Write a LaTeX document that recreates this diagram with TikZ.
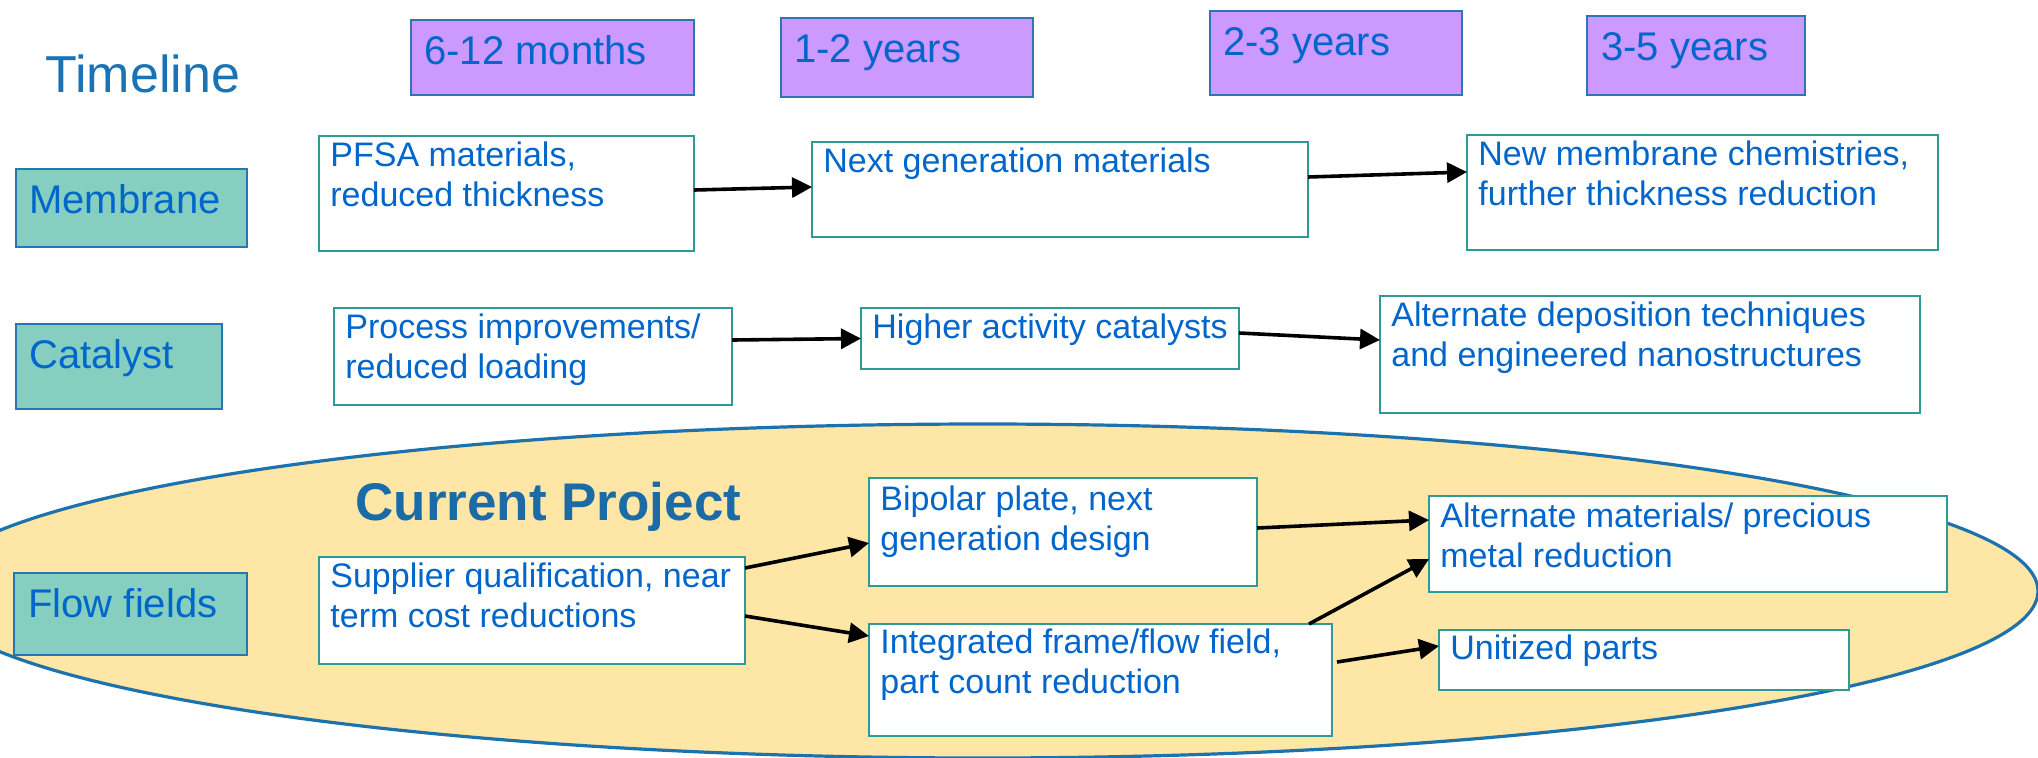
\documentclass[tikz,border=0pt]{standalone}
\usepackage{fontspec}
\setmainfont{Liberation Sans}
\usetikzlibrary{arrows.meta,calc}
\definecolor{txtblue}{HTML}{0066CC}
\definecolor{headblue}{HTML}{1A73B5}
\definecolor{projblue}{HTML}{1A6BA6}
\definecolor{purplefill}{HTML}{CC99FF}
\definecolor{purpleline}{HTML}{2E75B6}
\definecolor{tealfill}{HTML}{85CEC0}
\definecolor{tealline}{HTML}{2478B2}
\definecolor{wline}{HTML}{2E9A96}
\definecolor{ellfill}{HTML}{FEE6A6}
\definecolor{ellline}{HTML}{1C72AD}
\tikzset{
  boxbase/.style={anchor=north west, inner sep=0pt, outer sep=0pt},
  pbox/.style={boxbase, draw=purpleline, line width=0.9pt, fill=purplefill},
  tbox/.style={boxbase, draw=tealline, line width=0.9pt, fill=tealfill},
  wbox/.style={boxbase, draw=wline, line width=0.9pt, fill=white},
  lbl/.style={anchor=base west, inner sep=0pt, text=txtblue, font=\fontsize{20}{24}\selectfont},
  btxt/.style={anchor=north west, inner sep=0pt, align=left, text=txtblue, font=\fontsize{17}{20}\selectfont},
  arr/.style={draw=black, line width=1.8pt, -{Triangle[length=10pt,width=10pt]}},
}
\newcommand{\fs}{\rule{0pt}{15pt}}
\begin{document}
\begin{tikzpicture}[x=0.5pt,y=-0.5pt]
\useasboundingbox (0,0) rectangle (2038,757);
\begin{scope}
  \clip (0,0) rectangle (2038,757);
  \draw[ellline, fill=ellfill, line width=1.6pt] (983,591) ellipse [x radius=1055, y radius=167];
\end{scope}

% Timeline header
\node[anchor=base west, inner sep=0pt, text=headblue, font=\fontsize{26}{30}\selectfont] (timeline) at (45,92) {Timeline};

\node[pbox, minimum width=141.5pt, minimum height=37.5pt] (p1) at (411,20) {};
\node[lbl] (p1t) at ($(p1.north west)+(13,44)$) {6-12 months};
\node[pbox, minimum width=126pt, minimum height=39.5pt] (p2) at (781,18) {};
\node[lbl] (p2t) at ($(p2.north west)+(13,44)$) {1-2 years};
\node[pbox, minimum width=126pt, minimum height=42pt] (p3) at (1210,11) {};
\node[lbl] (p3t) at ($(p3.north west)+(13,44)$) {2-3 years};
\node[pbox, minimum width=109pt, minimum height=39.5pt] (p4) at (1587,16) {};
\node[lbl] (p4t) at ($(p4.north west)+(14,44)$) {3-5 years};

% Row labels
\node[tbox, minimum width=115.5pt, minimum height=39pt] (mem) at (16,169) {};
\node[lbl] (memt) at ($(mem.north west)+(13,44)$) {Membrane};
\node[tbox, minimum width=103pt, minimum height=42.5pt] (cat) at (16,324) {};
\node[lbl] (catt) at ($(cat.north west)+(13,44)$) {Catalyst};
\node[tbox, minimum width=116.5pt, minimum height=41pt] (flow) at (14,573) {};
\node[lbl] (flowt) at ($(flow.north west)+(14,44)$) {Flow fields};

% Membrane row
\node[wbox, minimum width=187.5pt, minimum height=57.5pt] (pfsa) at (319,136) {};
\node[btxt] (pfsat) at ($(pfsa.north west)+(11,0)$) {\fs PFSA materials,\\reduced thickness};
\node[wbox, minimum width=248pt, minimum height=47.5pt] (nextgen) at (812,142) {};
\node[btxt] (nextgent) at ($(nextgen.north west)+(11,0)$) {\fs Next generation materials};
\node[wbox, minimum width=235.5pt, minimum height=57.5pt] (newmem) at (1467,135) {};
\node[btxt] (newmemt) at ($(newmem.north west)+(11,0)$) {\fs New membrane chemistries,\\further thickness reduction};

% Catalyst row
\node[wbox, minimum width=199pt, minimum height=48.5pt] (process) at (334,308) {};
\node[btxt] (processt) at ($(process.north west)+(11,0)$) {\fs Process improvements/\\reduced loading};
\node[wbox, minimum width=189pt, minimum height=30.5pt] (higher) at (861,308) {};
\node[btxt] (highert) at ($(higher.north west)+(11,0)$) {\fs Higher activity catalysts};
\node[wbox, minimum width=270pt, minimum height=58.5pt] (altdep) at (1380,296) {};
\node[btxt] (altdept) at ($(altdep.north west)+(11,0)$) {\fs Alternate deposition techniques\\and engineered nanostructures};

% Current project
\node[anchor=base west, inner sep=0pt, text=projblue, font=\bfseries\fontsize{26.5}{30}\selectfont] (curproj) at (355,520) {Current Project};

% Flow fields row
\node[wbox, minimum width=213pt, minimum height=53.5pt] (supplier) at (319,557) {};
\node[btxt] (suppliert) at ($(supplier.north west)+(11,0)$) {\fs Supplier qualification, near\\term cost reductions};
\node[wbox, minimum width=194pt, minimum height=54pt] (bipolar) at (869,478) {};
\node[btxt] (bipolart) at ($(bipolar.north west)+(11,2)$) {\fs Bipolar plate, next\\generation design};
\node[wbox, minimum width=231.5pt, minimum height=56pt] (integrated) at (869,624) {};
\node[btxt] (integratedt) at ($(integrated.north west)+(11,-1)$) {\fs Integrated frame/flow field,\\part count reduction};
\node[wbox, minimum width=259pt, minimum height=48pt] (altmat) at (1429,496) {};
\node[btxt] (altmatt) at ($(altmat.north west)+(11,1)$) {\fs Alternate materials/ precious\\metal reduction};
\node[wbox, minimum width=205pt, minimum height=30pt] (unitized) at (1439,630) {};
\node[btxt] (unitizedt) at ($(unitized.north west)+(11,-1)$) {\fs Unitized parts};

% Arrows
\draw[arr] ($(pfsa.east)+(0,-3.5)$) -- ($(nextgen.west)+(0,-2.5)$);
\draw[arr] ($(nextgen.east)+(0,-12.5)$) -- ($(newmem.west)+(0,-20.5)$);
\draw[arr] ($(process.east)+(0,-16.5)$) -- ($(higher.west)+(0,0)$);
\draw[arr] ($(higher.east)+(0,-5.5)$) -- ($(altdep.west)+(0,-14.5)$);
\draw[arr] ($(supplier.east)+(0,-42.5)$) -- ($(bipolar.west)+(0,11)$);
\draw[arr] ($(supplier.east)+(0,5.5)$) -- ($(integrated.west)+(0,-44)$);
\draw[arr] ($(bipolar.east)+(0,-4)$) -- ($(altmat.west)+(0,-24)$);
\draw[arr] ($(integrated.north east)+(-23,0)$) -- ($(altmat.west)+(0,15)$);
\draw[arr] ($(integrated.east)+(5,-18)$) -- ($(unitized.west)+(0,-14)$);
\end{tikzpicture}
\end{document}
